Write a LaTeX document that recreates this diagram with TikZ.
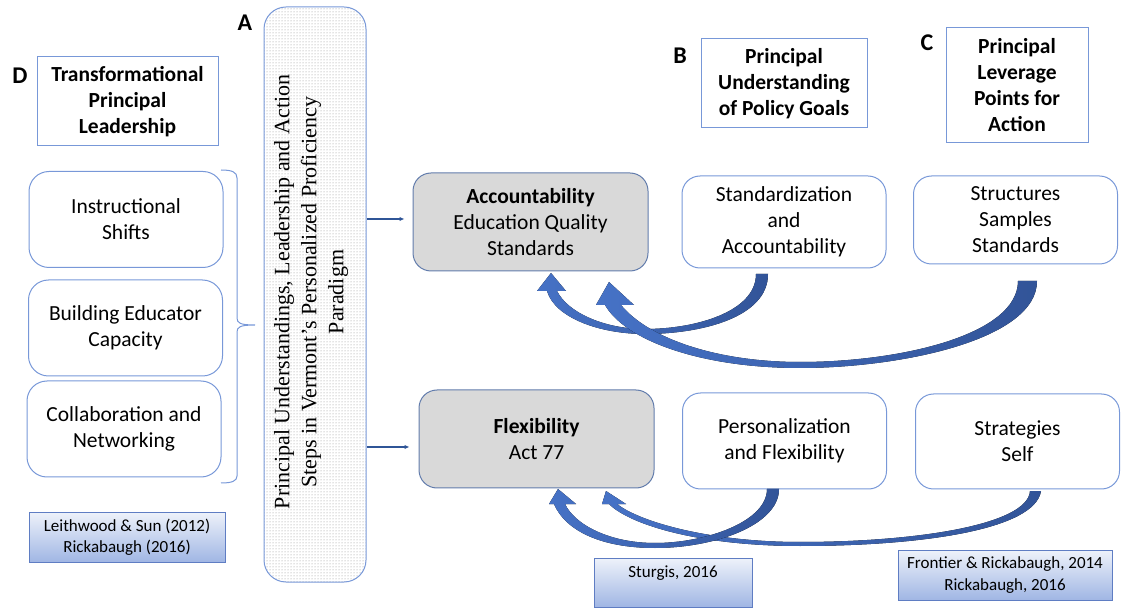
\documentclass[tikz,border=0pt]{standalone}
\usepackage{fontspec}
\setmainfont{Carlito}
\newfontfamily\timesfont{Liberation Serif}
\usetikzlibrary{arrows.meta,patterns}
\definecolor{boxline}{RGB}{120,152,216}
\definecolor{greyfill}{RGB}{217,217,217}
\definecolor{greyline}{RGB}{98,124,172}
\definecolor{linkblue}{RGB}{47,85,151}
\definecolor{arrowlight}{RGB}{70,114,198}
\definecolor{arrowdark}{RGB}{50,84,152}
\definecolor{citetop}{RGB}{238,242,250}
\definecolor{citebottom}{RGB}{160,182,228}
\definecolor{citeline}{RGB}{95,125,195}
\begin{document}
\begin{tikzpicture}[x=1pt,y=-1pt,
  every node/.style={font=\fontsize{21.5}{26}\selectfont, inner sep=0pt, align=center},
  headbox/.style={draw=boxline, line width=1pt, font=\fontsize{21.5}{26}\selectfont\bfseries},
  shiftbox/.style={draw=boxline, line width=1pt, rounded corners=20pt, minimum width=194pt, minimum height=96pt},
  policybox/.style={draw=greyline, line width=1pt, fill=greyfill, rounded corners=18pt, minimum width=235pt, minimum height=98pt},
  leverbox/.style={draw=boxline, line width=1pt, rounded corners=18pt, minimum width=204pt},
  citebox/.style={draw=citeline, line width=1pt, top color=citetop, bottom color=citebottom, font=\fontsize{17}{21.5}\selectfont},
  panelletter/.style={font=\fontsize{24}{28}\selectfont\bfseries},
  linkarrow/.style={draw=linkblue, line width=1.6pt, -{Latex[length=5pt,width=4.5pt]}},
  bigarrow/.style={left color=arrowlight, right color=arrowdark, draw=none}]
\useasboundingbox (0,0) rectangle (1125,609);

\node[panelletter] (labA) at (245,23) {A};
\node[panelletter] (labB) at (680,56) {B};
\node[panelletter] (labC) at (927,43) {C};
\node[panelletter] (labD) at (20,76) {D};

\node[headbox, minimum width=181pt, minimum height=89pt] (lead) at (127.5,101.5) {Transformational\\Principal\\Leadership};
\node[headbox, minimum width=166pt, minimum height=89pt] (goals) at (784,83.5) {Principal\\Understanding\\of Policy Goals};
\node[headbox, minimum width=142pt, minimum height=115pt] (lever) at (1017,85.5) {Principal\\Leverage\\Points for\\Action};

\node[shiftbox] (instr) at (126,219.5) {Instructional\\Shifts};
\node[shiftbox] (build) at (125.5,328) {Building Educator\\Capacity};
\node[shiftbox] (collab) at (124,429) {Collaboration and\\Networking};
\node[citebox, minimum width=196pt, minimum height=50pt] (leadcite) at (127,537) {Leithwood \& Sun (2012)\\Rickabaugh (2016)};

\draw[boxline, line width=1pt] (221,170) .. controls (232,170) and (237,172) .. (237,178) -- (237,318)
  .. controls (237,323) and (240,325) .. (255,325) .. controls (240,325) and (237,327) .. (237,332)
  -- (237,476) .. controls (237,481) and (232,483) .. (221,483);

\node[draw=boxline, line width=1pt, rounded corners=22pt, pattern=dots, pattern color=black!45,
  minimum width=102pt, minimum height=575pt] (paradigm) at (315,294.5) {};
\node[rotate=90, font=\timesfont\fontsize{22}{27}\selectfont] (paradigmtext) at (311,292)
  {Principal Understandings, Leadership and Action\\Steps in Vermont’s Personalized Proficiency\\Paradigm};

\node[policybox] (acc) at (530.5,222) {\textbf{Accountability}\\Education Quality\\Standards};
\node[policybox] (flex) at (536.5,439) {\textbf{Flexibility}\\Act 77};

\node[leverbox, minimum height=92pt] (stdz) at (784,222) {Standardization\\and\\Accountability};
\node[leverbox, minimum height=88pt] (struct) at (1015.5,220) {Structures\\Samples\\Standards};
\node[leverbox, minimum height=96pt] (pers) at (784.5,441) {Personalization\\and Flexibility};
\node[leverbox, minimum height=95pt] (strat) at (1017.5,441.5) {Strategies\\Self};

\node[citebox, minimum width=158pt, minimum height=49pt] (sturgis) at (673,582.5) {Sturgis, 2016\\\mbox{}};
\node[citebox, minimum width=214pt, minimum height=50pt] (frontier) at (1005,575) {Frontier \& Rickabaugh, 2014\\Rickabaugh, 2016};

\draw[linkarrow, shorten >=8pt] (paradigm.east |- 0,219) -- (acc.west |- 0,219);
\draw[linkarrow, shorten >=9pt] (paradigm.east |- 0,447) -- (flex.west |- 0,447);

\fill[bigarrow] (768,274) .. controls (768,318) and (700,334) .. (645,334) .. controls (600,334) and (555,318) .. (547,291)
  -- (537,291) -- (551,273) -- (566,291) -- (557,291) .. controls (568,313) and (605,329) .. (645,329)
  .. controls (695,329) and (756,312) .. (756,274) -- cycle;
\fill[bigarrow] (1037,281) .. controls (1037,340) and (900,368) .. (800,368) .. controls (700,368) and (625,340) .. (605,305)
  -- (596,305) -- (609,282) -- (634,305) -- (621,305) .. controls (650,340) and (720,362) .. (800,362)
  .. controls (900,362) and (1018,335) .. (1018,281) -- cycle;

\fill[bigarrow] (1041,491) .. controls (1035,530) and (920,546) .. (800,546) .. controls (700,546) and (630,525) .. (609,504)
  -- (602,504) -- (606,491) -- (626,504) -- (617,504) .. controls (640,522) and (710,542) .. (800,542)
  .. controls (915,542) and (1028,525) .. (1030,491) -- cycle;
\fill[bigarrow] (779,489) .. controls (779,525) and (715,548) .. (655,548) .. controls (600,548) and (565,530) .. (554,504)
  -- (549,504) -- (558,489) -- (576,504) -- (565,504) .. controls (575,525) and (610,543) .. (655,543)
  .. controls (705,543) and (767,522) .. (767,489) -- cycle;
\end{tikzpicture}
\end{document}
